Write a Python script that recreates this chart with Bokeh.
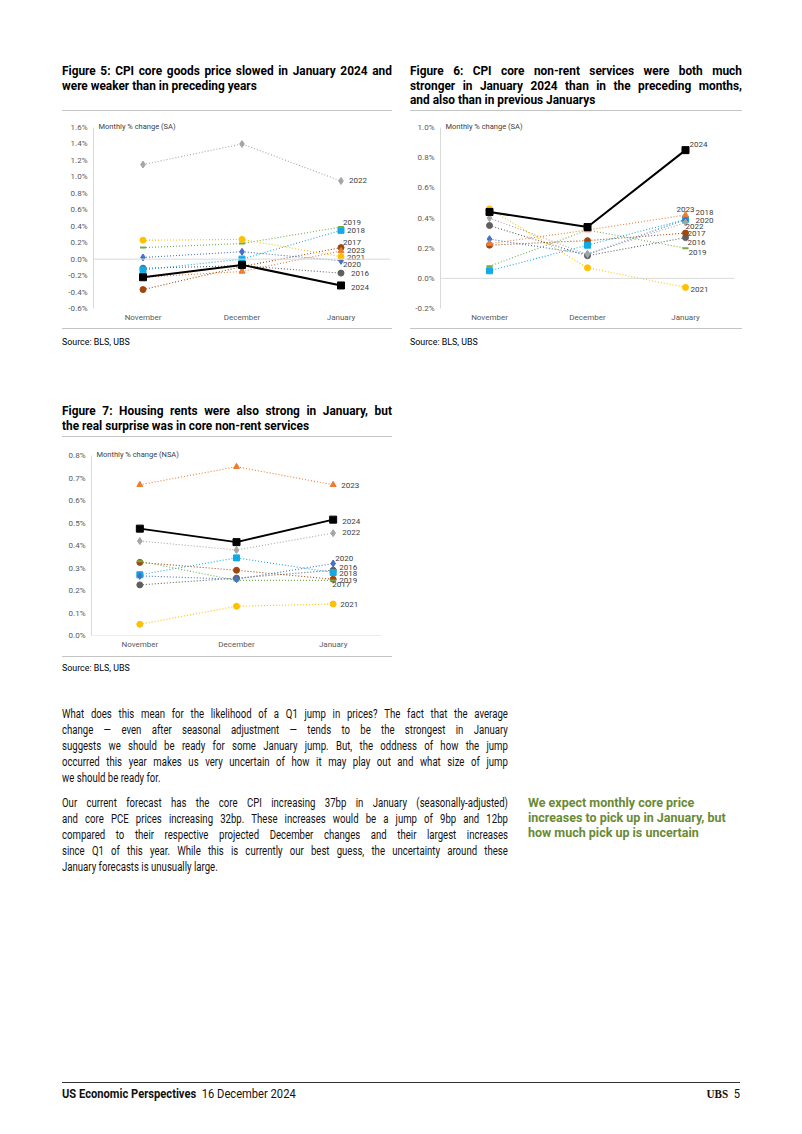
from bokeh.plotting import figure
from bokeh.layouts import column, row
from bokeh.models import (Div, Spacer, FactorRange, Range1d, FixedTicker, PrintfTickFormatter,
                          Span, Label)
from bokeh.core.properties import value
from bokeh.embed import file_html
from bokeh.resources import INLINE

# ---------------- data ----------------
months = ["November", "December", "January"]
years = ["2016", "2017", "2018", "2019", "2020", "2021", "2022", "2023", "2024"]

goods = {  # Figure 5: CPI core goods, monthly % change (SA)
    "2016": [-0.11, -0.08, -0.17],
    "2017": [-0.37, -0.09, 0.14],
    "2018": [-0.13, 0.00, 0.35],
    "2019": [0.14, 0.19, 0.39],
    "2020": [0.02, 0.09, -0.02],
    "2021": [0.23, 0.24, 0.03],
    "2022": [1.15, 1.40, 0.95],
    "2023": [-0.22, -0.15, 0.10],
    "2024": [-0.22, -0.07, -0.32],
}
services = {  # Figure 6: CPI core non-rent services, monthly % change (SA)
    "2016": [0.35, 0.15, 0.27],
    "2017": [0.22, 0.25, 0.30],
    "2018": [0.05, 0.22, 0.39],
    "2019": [0.08, 0.32, 0.20],
    "2020": [0.26, 0.16, 0.39],
    "2021": [0.46, 0.07, -0.06],
    "2022": [0.40, 0.16, 0.37],
    "2023": [0.23, 0.32, 0.42],
    "2024": [0.44, 0.34, 0.85],
}
rents = {  # Figure 7: housing rents, monthly % change (NSA)
    "2016": [0.225, 0.255, 0.29],
    "2017": [0.325, 0.29, 0.25],
    "2018": [0.27, 0.345, 0.28],
    "2019": [0.33, 0.245, 0.245],
    "2020": [0.265, 0.25, 0.32],
    "2021": [0.05, 0.13, 0.14],
    "2022": [0.42, 0.38, 0.455],
    "2023": [0.67, 0.75, 0.67],
    "2024": [0.475, 0.415, 0.515],
}
ticks5 = [-0.6, -0.4, -0.2, 0.0, 0.2, 0.4, 0.6, 0.8, 1.0, 1.2, 1.4, 1.6]
ticks6 = [-0.2, 0.0, 0.2, 0.4, 0.6, 0.8, 1.0]
ticks7 = [0.0, 0.1, 0.2, 0.3, 0.4, 0.5, 0.6, 0.7, 0.8]

# ---------------- styles ----------------
COL = {"2016": "#5f5f5f", "2017": "#9E480E", "2018": "#12A9E6", "2019": "#70AD47",
       "2020": "#4472C4", "2021": "#FFC000", "2022": "#A5A5A5", "2023": "#ED7D31",
       "2024": "#000000"}
MARK = {"2016": "circle", "2017": "circle", "2018": "square", "2019": "dash",
        "2020": "diamond", "2021": "circle", "2022": "diamond", "2023": "triangle",
        "2024": "square"}
MSIZE = {"2016": 6, "2017": 6, "2018": 6, "2019": 6, "2020": 7, "2021": 6,
         "2022": 7, "2023": 6, "2024": 7}

# end-label offsets (px) : (dx, dy)
off5 = {"2022": (8, 0), "2019": (2, -5), "2018": (6, 0), "2017": (2, -5), "2023": (6, 0),
        "2021": (6, 1), "2020": (2, 4), "2016": (10, 0), "2024": (10, 2)}
off6 = {"2024": (4, -6), "2023": (-9, -5), "2018": (10, -7), "2020": (10, 1), "2022": (0, 4),
        "2017": (2, 0), "2016": (2, 5), "2019": (3, 4), "2021": (5, 2)}
off7 = {"2023": (8, 1), "2024": (9, 2), "2022": (9, -1), "2020": (2, -5), "2016": (6, -3),
        "2018": (6, 1), "2019": (6, 0), "2017": (-1, 5), "2021": (7, 0)}

FONT = "Roboto"
TICKCOL = "#595959"
TOP_PAD = 8  # px of head-room above the top tick for the unit label


def make_chart(data, yrange, ticks, unit_label, offs, w, h, mbl, mbr, mbt, mbb):
    ymin, ymax = yrange
    frame_h = h - mbt - mbb
    extra = TOP_PAD * (ymax - ymin) / frame_h
    p = figure(x_range=FactorRange(factors=months), y_range=Range1d(ymin, ymax + extra),
               width=w, height=h, output_backend="svg", toolbar_location=None, title=None,
               min_border_left=mbl, min_border_right=mbr, min_border_top=mbt - TOP_PAD,
               min_border_bottom=mbb)
    p.outline_line_color = None
    p.background_fill_color = "white"
    p.border_fill_color = "white"
    p.xgrid.visible = False
    p.ygrid.visible = False
    p.yaxis.ticker = FixedTicker(ticks=ticks)
    p.yaxis.formatter = PrintfTickFormatter(format="%.1f%%")
    p.yaxis.bounds = (ymin, ymax)
    for ax in (p.xaxis[0], p.yaxis[0]):
        ax.major_label_text_font = FONT
        ax.major_label_text_font_size = "8px"
        ax.major_label_text_color = TICKCOL
        ax.major_tick_line_color = None
        ax.minor_tick_line_color = None
        ax.major_tick_out = 0
        ax.major_tick_in = 0
        ax.minor_tick_out = 0
    p.yaxis.axis_line_color = "#d9d9d9"
    p.yaxis.major_label_standoff = 6
    p.xaxis.axis_line_color = None
    p.xaxis.major_label_standoff = 4
    p.add_layout(Span(location=0, dimension="width", line_color="#d9d9d9", line_width=1))

    for yr in years:
        c = COL[yr]
        if yr == "2024":
            p.line(months, data[yr], line_color=c, line_width=2)
        else:
            p.line(months, data[yr], line_color=c, line_width=1.1, line_dash="1 2")
        p.scatter(months, data[yr], marker=MARK[yr], size=MSIZE[yr], fill_color=c,
                  line_color=c, line_width=2 if MARK[yr] == "dash" else 1)

    p.text(x=["January"] * len(years), y=[data[y][2] for y in years], text=years,
           x_offset=[offs[y][0] for y in years], y_offset=[offs[y][1] for y in years],
           text_baseline="middle", text_align="left", text_font=value(FONT),
           text_font_size="8px", text_color="#404040")
    p.add_layout(Label(x=0, y=ymax, text=unit_label, x_offset=5, y_offset=1,
                       text_baseline="middle", text_align="left", text_font=FONT,
                       text_font_size="7.5px", text_color="#404040"))
    return p


# ---------------- text helpers ----------------
def text_block(lines, w, h, size, lh, weight="normal", color="#111", scale=0.88,
               border=None, pad_top=0, family=FONT):
    parts = []
    if pad_top:
        parts.append(f'<div style="height:{pad_top}px"></div>')
    for txt, just in lines:
        if txt is None:
            parts.append(f'<div style="height:{just}px"></div>')
            continue
        if just:
            spans = "".join(f"<span>{wd}</span>" for wd in txt.split(" "))
            parts.append('<div style="display:flex;justify-content:space-between;'
                         f'white-space:nowrap;height:{lh}px;">{spans}</div>')
        else:
            parts.append(f'<div style="white-space:nowrap;height:{lh}px;">{txt}</div>')
    bstyle = ""
    if border == "bottom":
        bstyle = "border-bottom:1px solid #c4c4c4;"
    elif border == "top":
        bstyle = "border-top:1px solid #c4c4c4;"
    inner = (f'<div style="width:{w / scale:.2f}px;transform:scaleX({scale});transform-origin:0 0;'
             f'font-family:{family}, sans-serif;font-size:{size}px;line-height:{lh}px;'
             f'font-weight:{weight};color:{color};">' + "".join(parts) + "</div>")
    html = (f'<div style="width:{w}px;height:{h}px;box-sizing:border-box;{bstyle}">'
            + inner + "</div>")
    return Div(text=html, width=w, height=h, margin=0)


def sp(w, h):
    return Spacer(width=w, height=h, margin=0)


# ---------------- titles / texts ----------------
t5 = [("Figure 5: CPI core goods price slowed in January 2024 and", True),
      ("were weaker than in preceding years", False)]
t6 = [("Figure 6: CPI core non-rent services were both much", True),
      ("stronger in January 2024 than in the preceding months,", True),
      ("and also than in previous Januarys", False)]
t7 = [("Figure 7: Housing rents were also strong in January, but", True),
      ("the real surprise was in core non-rent services", False)]
src = [("Source: BLS, UBS", False)]

para = [
    ("What does this mean for the likelihood of a Q1 jump in prices? The fact that the average", True),
    ("change — even after seasonal adjustment — tends to be the strongest in January", True),
    ("suggests we should be ready for some January jump. But, the oddness of how the jump", True),
    ("occurred this year makes us very uncertain of how it may play out and what size of jump", True),
    ("we should be ready for.", False),
    (None, 9),
    ("Our current forecast has the core CPI increasing 37bp in January (seasonally-adjusted)", True),
    ("and core PCE prices increasing 32bp. These increases would be a jump of 9bp and 12bp", True),
    ("compared to their respective projected December changes and their largest increases", True),
    ("since Q1 of this year. While this is currently our best guess, the uncertainty around these", True),
    ("January forecasts is unusually large.", False),
]
side = [("We expect monthly core price", False),
        ("increases to pick up in January, but", False),
        ("how much pick up is uncertain", False)]

# ---------------- charts ----------------
p5 = make_chart(goods, (-0.6, 1.6), ticks5, "Monthly % change (SA)", off5, 330, 217, 31, 2, 16, 20)
p6 = make_chart(services, (-0.2, 1.0), ticks6, "Monthly % change (SA)", off6, 332, 217, 30, 8, 16, 20)
p7 = make_chart(rents, (0.0, 0.8), ticks7, "Monthly % change (NSA)", off7, 330, 219, 29, 11, 18, 21)

TS, TSC = 12.5, 0.95  # title font size / horizontal scale
colA = column(text_block(t5, 330, 47, TS, 14.5, weight="bold", color="#000", scale=TSC, border="bottom"),
              p5,
              text_block(src, 330, 26, 9.5, 26, color="#000", scale=0.93, border="top"),
              margin=0)
colB = column(text_block(t6, 332, 47, TS, 14.5, weight="bold", color="#000", scale=TSC, border="bottom"),
              p6,
              text_block(src, 332, 26, 9.5, 26, color="#000", scale=0.93, border="top"),
              margin=0)
colC = column(text_block(t7, 330, 33, TS, 14.5, weight="bold", color="#000", scale=TSC, border="bottom"),
              p7,
              text_block(src, 330, 22, 9.5, 22, color="#000", scale=0.93, border="top"),
              margin=0)

body = text_block(para, 446, 170, 12, 16, color="#111", scale=0.8)
sidebar = text_block(side, 210, 170, 12.5, 15, weight="bold", color="#6a8a34", scale=1.0, pad_top=89)

footer_html = ('<div style="width:678px;height:24px;box-sizing:border-box;border-top:1px solid #333;">'
               '<div style="width:729.03px;transform:scaleX(0.93);transform-origin:0 0;display:flex;'
               'justify-content:space-between;font-family:Roboto, sans-serif;font-size:12px;'
               'line-height:22px;color:#111;white-space:nowrap;">'
               '<span><b>US Economic Perspectives</b>&nbsp;&nbsp;16 December 2024</span>'
               '<span><b style="font-family:\'Liberation Serif\', serif;">UBS</b>&nbsp;&nbsp;5</span>'
               '</div></div>')
footer = Div(text=footer_html, width=678, height=24, margin=0)

page = column(
    sp(786, 64),
    row(sp(62, 290), colA, sp(18, 290), colB, margin=0),
    sp(786, 50),
    row(sp(62, 274), colC, margin=0),
    sp(786, 28),
    row(sp(62, 170), body, sp(20, 170), sidebar, margin=0),
    sp(786, 206),
    row(sp(62, 24), footer, margin=0),
    margin=0,
)

open("out.html", "w").write(file_html(page, INLINE))
